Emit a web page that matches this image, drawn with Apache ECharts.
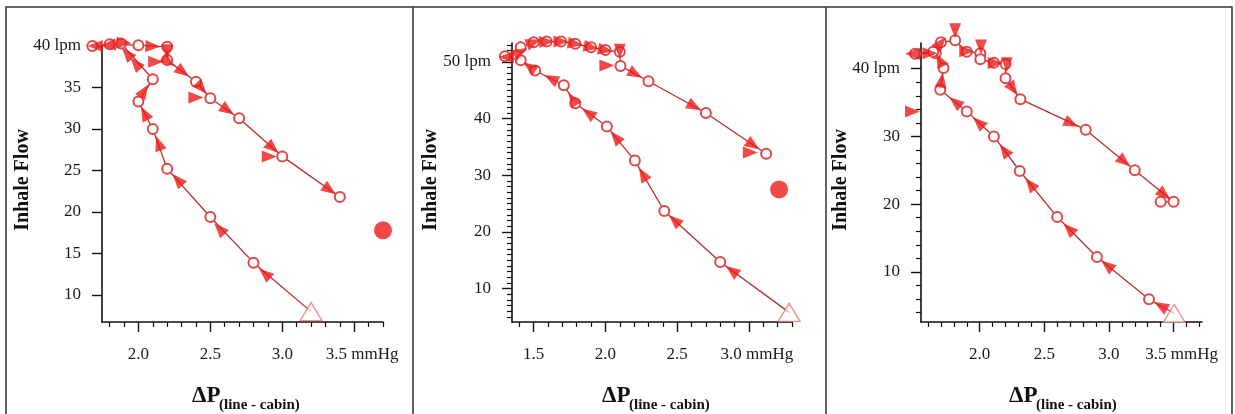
<!DOCTYPE html>
<html>
<head>
<meta charset="utf-8">
<script src="https://cdn.jsdelivr.net/npm/echarts@6/dist/echarts.min.js"></script>
<style>
  html, body { margin: 0; padding: 0; background: #fff; }
  #chart { width: 1235px; height: 414px; }
</style>
</head>
<body>
<div id="chart"></div>
<script>
// ---- Panel 1 (40 lpm) ----
// flow path [ΔP mmHg, flow lpm]; first point is the start of the sweep
const path1 = [[3.2,8.0],[2.8,13.9],[2.5,19.4],[2.2,25.2],[2.1,30.0],[2.0,33.3],[2.1,36.0],[1.88,40.3],[1.68,40.0],[1.80,40.2],[2.0,40.1],[2.2,39.9],[2.2,38.3],[2.4,35.7],[2.5,33.7],[2.7,31.3],[3.0,26.7],[3.4,21.8]];
// direction arrows [x, y, optional heading in degrees]
const arrows1 = [[2.877,12.6],[2.563,18.0],[2.272,23.9],[2.14,28.3],[2.042,31.9],[2.04,34.6],[1.98,37.9],[1.92,39.1],[1.90,40.4],[1.79,40.1],[1.70,40.0,180],[2.10,39.95],[2.2,39.3],[2.12,38.1,0],[2.21,38.1],[2.31,36.87],[2.44,34.9],[2.40,33.8,0],[2.62,32.26],[2.935,27.7],[2.91,26.7,0],[3.33,22.66]];
const endDot1 = [3.70, 17.8];
const xRange1 = [1.747, 3.70];
const yRange1 = [6.75, 40];
const xMajor1 = [2.0, 2.5, 3.0, 3.5];
const xMinor1 = [1.8,1.9,2.1,2.2,2.3,2.4,2.6,2.7,2.8,2.9,3.1,3.2,3.3,3.4,3.6,3.7];
const yMajor1 = [10, 15, 20, 25, 30, 35, 40];
const yMinor1 = [];

// ---- Panel 2 (50 lpm) ----
const path2 = [[3.28,5.8],[2.80,14.7],[2.41,23.7],[2.205,32.6],[2.01,38.6],[1.79,42.7],[1.71,45.9],[1.51,48.5],[1.41,50.3],[1.30,51.0],[1.41,52.6],[1.50,53.5],[1.59,53.6],[1.69,53.6],[1.79,53.2],[1.90,52.6],[2.00,52.1],[2.10,51.8],[2.105,49.3],[2.30,46.6],[2.70,41.0],[3.12,33.8]];
const arrows2 = [[2.88,13.2],[2.48,22.1],[2.26,30.2],[2.07,36.75],[1.88,41.0],[1.77,43.5],[1.62,47.1],[1.47,49.2],[1.31,50.9,180],[1.41,51.8],[1.50,53.5],[1.59,53.6],[1.69,53.6],[1.79,53.2],[1.90,52.6],[2.00,52.1],[2.10,51.9,-90],[2.01,49.4,0],[2.21,47.85],[2.62,42.1],[3.03,35.3],[3.01,34.0,0]];
const endDot2 = [3.21, 27.5];
const xRange2 = [1.349, 3.30];
const yRange2 = [4.1, 53.35];
const xMajor2 = [1.5, 2.0, 2.5, 3.0];
const xMinor2 = [1.4,1.6,1.7,1.8,1.9,2.1,2.2,2.3,2.4,2.6,2.7,2.8,2.9,3.1,3.2,3.3];
const yMajor2 = [10, 20, 30, 40, 50];
const yMinor2 = [5,6,7,8,9,11,12,13,14,15,16,17,18,19,21,22,23,24,25,26,27,28,29,31,32,33,34,35,36,37,38,39,41,42,43,44,45,46,47,48,49,51,52,53];

// ---- Panel 3 (40 lpm) ----
const path3 = [[3.505,3.85],[3.31,5.96],[2.907,12.2],[2.60,18.1],[2.31,24.9],[2.11,30.0],[1.90,33.7],[1.695,36.9],[1.72,40.1],[1.66,42.3],[1.50,42.2],[1.64,42.5],[1.70,43.9],[1.81,44.2],[1.90,42.5],[2.005,42.3],[2.005,41.4],[2.11,40.9],[2.20,40.7],[2.20,38.6],[2.315,35.5],[2.82,31.0],[3.20,25.0],[3.50,20.35],[3.40,20.35]];
const arrows3 = [[3.40,4.99],[2.985,11.0],[2.69,16.37],[2.39,23.0],[2.19,27.96],[1.99,32.1],[1.81,35.1],[1.706,38.3],[1.48,33.7,0],[1.69,41.3],[1.48,42.2,180],[1.615,42.3,0],[1.70,43.8],[1.81,45.6,-90],[1.90,42.6,0],[2.01,43.2,-90],[2.12,40.85,0],[2.21,40.6,-90],[2.26,37.0],[2.71,31.9],[3.12,26.26],[3.43,21.4]];
const xRange3 = [1.546, 3.72];
const yRange3 = [2.6, 43.8];
const xMajor3 = [2.0, 2.5, 3.0, 3.5];
const xMinor3 = [1.6,1.7,1.8,1.9,2.1,2.2,2.3,2.4,2.6,2.7,2.8,2.9,3.1,3.2,3.3,3.4,3.6,3.7];
const yMajor3 = [10, 20, 30, 40];
const yMinor3 = [4,6,8,12,14,16,18,22,24,26,28,32,34,36,38,42];

const xUnit = 'mmHg';
const yUnit = 'lpm';
const yName = 'Inhale Flow';
const xNameMain = 'ΔP';
const xNameSub = '(line - cabin)';

const SERIF = '"Liberation Serif", "DejaVu Serif", serif';
const RED = '#ee1a1a';
const LINE = '#b62e2a';

const panels = [
  { path: path1, arrows: arrows1, dot: endDot1, xr: xRange1, yr: yRange1, xM: xMajor1, xm: xMinor1, yM: yMajor1, ym: yMinor1,
    grid: { left: 102, top: 46, width: 281, height: 276 }, yTitleX: 23, xTitleX: 192 },
  { path: path2, arrows: arrows2, dot: endDot2, xr: xRange2, yr: yRange2, xM: xMajor2, xm: xMinor2, yM: yMajor2, ym: yMinor2,
    grid: { left: 512, top: 43, width: 280, height: 279 }, yTitleX: 431, xTitleX: 602 },
  { path: path3, arrows: arrows3, dot: null, xr: xRange3, yr: yRange3, xM: xMajor3, xm: xMinor3, yM: yMajor3, ym: yMinor3,
    grid: { left: 921, top: 43, width: 281, height: 279 }, yTitleX: 841, xTitleX: 1009 }
];

const chart = echarts.init(document.getElementById('chart'), null, { renderer: 'canvas' });

const grids = [], xAxes = [], yAxes = [], series = [], graphics = [];
const labelStyle = { fontFamily: SERIF, fontSize: 17, color: '#1a1a1a' };

panels.forEach((p, i) => {
  grids.push(Object.assign({ containLabel: false }, p.grid));
  const lastX = p.xM[p.xM.length - 1];
  const topY = p.yM[p.yM.length - 1];
  // major x axis: line, long ticks, labels
  xAxes.push({
    type: 'value', gridIndex: i, position: 'bottom', offset: 0, min: p.xr[0], max: p.xr[1],
    axisLine: { show: true, onZero: false, lineStyle: { color: '#111', width: 1.6 } },
    axisTick: { show: true, inside: false, length: 10, customValues: p.xM, lineStyle: { color: '#111', width: 1.4 } },
    axisLabel: Object.assign({
      customValues: p.xM, margin: 24,
      formatter: v => (Math.abs(v - lastX) < 1e-9 ? '{u|' + v.toFixed(1) + ' ' + xUnit + '}' : v.toFixed(1)),
      rich: { u: Object.assign({ padding: [0, 0, 0, 16] }, labelStyle) }
    }, labelStyle),
    splitLine: { show: false }
  });
  // minor x ticks
  xAxes.push({
    type: 'value', gridIndex: i, position: 'bottom', offset: 0, min: p.xr[0], max: p.xr[1],
    axisLine: { show: false, onZero: false },
    axisTick: { show: true, inside: false, length: 5, customValues: p.xm, lineStyle: { color: '#111', width: 1.2 } },
    axisLabel: { show: false }, splitLine: { show: false }
  });
  yAxes.push({
    type: 'value', gridIndex: i, position: 'left', offset: 0, min: p.yr[0], max: p.yr[1],
    axisLine: { show: true, onZero: false, lineStyle: { color: '#111', width: 1.6 } },
    axisTick: { show: true, inside: false, length: 10, customValues: p.yM, lineStyle: { color: '#111', width: 1.4 } },
    axisLabel: Object.assign({
      customValues: p.yM, margin: 21,
      formatter: v => (v === topY ? v + ' ' + yUnit : String(v))
    }, labelStyle),
    splitLine: { show: false }
  });
  yAxes.push({
    type: 'value', gridIndex: i, position: 'left', offset: 0, min: p.yr[0], max: p.yr[1],
    axisLine: { show: false, onZero: false },
    axisTick: { show: p.ym.length > 0, inside: false, length: 5, customValues: p.ym.length ? p.ym : [p.yr[0]], lineStyle: { color: '#111', width: 1.2 } },
    axisLabel: { show: false }, splitLine: { show: false }
  });

  const xi = 2 * i, yi = 2 * i;
  series.push({
    id: 'path' + i, type: 'line', xAxisIndex: xi, yAxisIndex: yi, clip: false, z: 2,
    data: p.path.map((pt, k) => (k === 0 ? { value: pt, symbol: 'none' } : pt)),
    symbol: 'emptyCircle', symbolSize: 10, showSymbol: true,
    lineStyle: { color: LINE, width: 1.3 },
    itemStyle: { color: '#e04848', borderColor: '#e04848', borderWidth: 0.9 },
    emphasis: { disabled: true }, silent: true, animation: false
  });
  series.push({
    id: 'start' + i, type: 'scatter', xAxisIndex: xi, yAxisIndex: yi, clip: false, z: 3,
    data: [p.path[0]], symbol: 'triangle', symbolSize: [22, 18],
    itemStyle: { color: 'rgba(255,255,255,0.85)', borderColor: '#e77474', borderWidth: 1.3 },
    silent: true
  });
  series.push({
    id: 'arrows' + i, type: 'scatter', xAxisIndex: xi, yAxisIndex: yi, clip: false, z: 4,
    data: p.arrows.map(a => ({ value: [a[0], a[1]] })), symbol: 'triangle', symbolSize: [12, 15],
    itemStyle: { color: RED }, silent: true
  });
  if (p.dot) {
    series.push({
      id: 'dot' + i, type: 'scatter', xAxisIndex: xi, yAxisIndex: yi, clip: false, z: 4,
      data: [p.dot], symbol: 'circle', symbolSize: 18, itemStyle: { color: RED }, silent: true
    });
  }

  // axis titles
  graphics.push({
    type: 'text', x: p.yTitleX, y: 180, rotation: Math.PI / 2,
    style: { text: yName, font: 'bold 20px ' + SERIF, fill: '#111', align: 'center', verticalAlign: 'middle' }
  });
  graphics.push({
    type: 'text', x: p.xTitleX, y: 396,
    style: { text: xNameMain, font: 'bold 23px ' + SERIF, fill: '#111', align: 'left', verticalAlign: 'middle' }
  });
  graphics.push({
    type: 'text', x: p.xTitleX + 27, y: 405,
    style: { text: xNameSub, font: 'bold 15px ' + SERIF, fill: '#111', align: 'left', verticalAlign: 'middle' }
  });
});

// panel frames
const frameStyle = { stroke: '#333', lineWidth: 1.5 };
graphics.push({ type: 'polyline', shape: { points: [[6, 414], [6, 7], [1232, 7], [1232, 414]] }, style: Object.assign({ fill: null }, frameStyle) });
graphics.push({ type: 'line', shape: { x1: 413, y1: 7, x2: 413, y2: 414 }, style: frameStyle });
graphics.push({ type: 'line', shape: { x1: 826, y1: 7, x2: 826, y2: 414 }, style: frameStyle });

chart.setOption({
  animation: false,
  backgroundColor: '#fff',
  grid: grids, xAxis: xAxes, yAxis: yAxes, series: series, graphic: graphics
});

// orient each arrow along the path segment it sits on (or its own heading)
function segmentHeading(pt, path, conv) {
  const p = conv(pt);
  let best = null, bd = Infinity;
  for (let k = 0; k < path.length - 1; k++) {
    const a = conv(path[k]), b = conv(path[k + 1]);
    const dx = b[0] - a[0], dy = b[1] - a[1];
    const L = dx * dx + dy * dy;
    if (!L) continue;
    let t = ((p[0] - a[0]) * dx + (p[1] - a[1]) * dy) / L;
    t = Math.max(0, Math.min(1, t));
    const qx = a[0] + t * dx - p[0], qy = a[1] + t * dy - p[1];
    const d = qx * qx + qy * qy;
    if (d < bd - 1e-6) { bd = d; best = [dx, dy]; }
  }
  return Math.atan2(-best[1], best[0]) * 180 / Math.PI;
}

const updates = panels.map((p, i) => {
  const conv = v => chart.convertToPixel({ xAxisIndex: 2 * i, yAxisIndex: 2 * i }, v);
  return {
    id: 'arrows' + i,
    data: p.arrows.map(a => {
      const heading = a.length > 2 ? a[2] : segmentHeading([a[0], a[1]], p.path, conv);
      return { value: [a[0], a[1]], symbolRotate: heading - 90 };
    })
  };
});
chart.setOption({ series: updates });
</script>
</body>
</html>
